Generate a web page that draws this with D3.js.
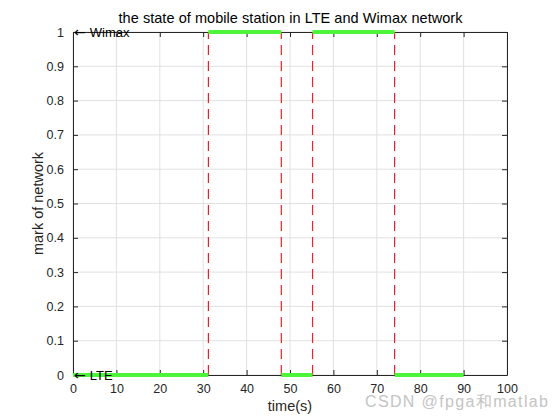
<!DOCTYPE html>
<html>
<head>
<meta charset="utf-8">
<script src="https://cdn.jsdelivr.net/npm/d3@7"></script>
<style>
  body { margin: 0; background: #fff; }
  text { font-family: "Liberation Sans", Arial, sans-serif; }
</style>
</head>
<body>
<div id="chart-area"></div>
<script>
// switching times (s) and network state between them (0 = LTE, 1 = Wimax)
var switchTimes = [0, 31.2, 48, 55.2, 74.1, 90];
var states = [0, 1, 0, 1, 0];
var xTicks = [0, 10, 20, 30, 40, 50, 60, 70, 80, 90, 100];
var yTicks = [0, 0.1, 0.2, 0.3, 0.4, 0.5, 0.6, 0.7, 0.8, 0.9, 1];
var labels = [{ t: 0, v: 1, text: "Wimax" }, { t: 0, v: 0, text: "LTE" }];

var margin = { left: 73, right: 53, top: 32, bottom: 45 };
var width = 560 - margin.left - margin.right,
    height = 420 - margin.top - margin.bottom;

var svg = d3.select("#chart-area")
  .append("svg")
    .attr("width", 560)
    .attr("height", 420);

var g = svg.append("g")
  .attr("transform", "translate(" + margin.left + ", " + margin.top + ")");

var x = d3.scaleLinear().domain([0, 100]).range([0, width]);
var y = d3.scaleLinear().domain([0, 1]).range([height, 0]);

// grid
g.selectAll(".xgrid").data(xTicks).enter().append("line")
  .attr("x1", d => x(d)).attr("x2", d => x(d))
  .attr("y1", 0).attr("y2", height)
  .attr("stroke", "#e1e1e1");
g.selectAll(".ygrid").data(yTicks).enter().append("line")
  .attr("y1", d => y(d)).attr("y2", d => y(d))
  .attr("x1", 0).attr("x2", width)
  .attr("stroke", "#e1e1e1");

// axes (matlab style: inward ticks on all four sides)
var tickFmt = d3.format("~g");
g.append("g").attr("transform", "translate(0," + height + ")")
  .call(d3.axisBottom(x).tickValues(xTicks).tickSizeInner(-5).tickSizeOuter(0).tickPadding(9).tickFormat(tickFmt));
g.append("g")
  .call(d3.axisTop(x).tickValues(xTicks).tickSizeInner(-5).tickSizeOuter(0).tickFormat(""));
g.append("g")
  .call(d3.axisLeft(y).tickValues(yTicks).tickSizeInner(-5).tickSizeOuter(0).tickPadding(9).tickFormat(tickFmt));
g.append("g").attr("transform", "translate(" + width + ",0)")
  .call(d3.axisRight(y).tickValues(yTicks).tickSizeInner(-5).tickSizeOuter(0).tickFormat(""));

g.selectAll(".domain").attr("stroke", "#262626");
g.selectAll(".tick line").attr("stroke", "#262626");
g.selectAll(".tick text").attr("font-size", "12.5px").attr("fill", "#262626");

// red dashed switch lines
var inner = switchTimes.slice(1, switchTimes.length - 1);
g.selectAll(".switch").data(inner).enter().append("line")
  .attr("x1", d => x(d)).attr("x2", d => x(d))
  .attr("y1", y(0)).attr("y2", y(1))
  .attr("stroke", "#e8222a")
  .attr("stroke-width", 1.2)
  .attr("stroke-dasharray", "10,6");

// green state segments
var segs = states.map(function(s, i) {
  return { t0: switchTimes[i], t1: switchTimes[i + 1], v: s };
});
g.selectAll(".seg").data(segs).enter().append("line")
  .attr("x1", d => x(d.t0)).attr("x2", d => x(d.t1))
  .attr("y1", d => y(d.v)).attr("y2", d => y(d.v))
  .attr("stroke", "#4cf53a")
  .attr("stroke-width", 4);

// annotations: "\leftarrow name"
var lab = g.selectAll(".lab").data(labels).enter().append("text")
  .attr("x", d => x(d.t) + 1)
  .attr("y", d => y(d.v))
  .attr("dy", "0.35em")
  .attr("font-size", "13px")
  .attr("fill", "#000");
lab.append("tspan")
  .style("font-family", "'DejaVu Sans', sans-serif")
  .attr("font-size", "14px")
  .text("\u2190");
lab.append("tspan")
  .attr("dx", 4)
  .text(d => d.text);

// title and axis labels
svg.append("text")
  .attr("x", margin.left + width / 2 + 0.5).attr("y", 23)
  .attr("text-anchor", "middle").attr("font-size", "14.5px").attr("fill", "#000")
  .attr("textLength", 344).attr("lengthAdjust", "spacing")
  .text("the state of mobile station in LTE and Wimax network");

svg.append("text")
  .attr("x", margin.left + width / 2).attr("y", 411)
  .attr("text-anchor", "middle").attr("font-size", "14.5px").attr("fill", "#262626")
  .text("time(s)");

svg.append("text")
  .attr("transform", "translate(43," + (margin.top + height / 2) + ") rotate(-90)")
  .attr("text-anchor", "middle").attr("font-size", "14.5px").attr("fill", "#262626")
  .text("mark of network");

// watermark
svg.append("text")
  .attr("x", 365).attr("y", 407)
  .attr("font-size", "16px")
  .attr("fill", "#c4c4c4")
  .attr("textLength", 183).attr("lengthAdjust", "spacing")
  .text("CSDN @fpga和matlab");
</script>
</body>
</html>
